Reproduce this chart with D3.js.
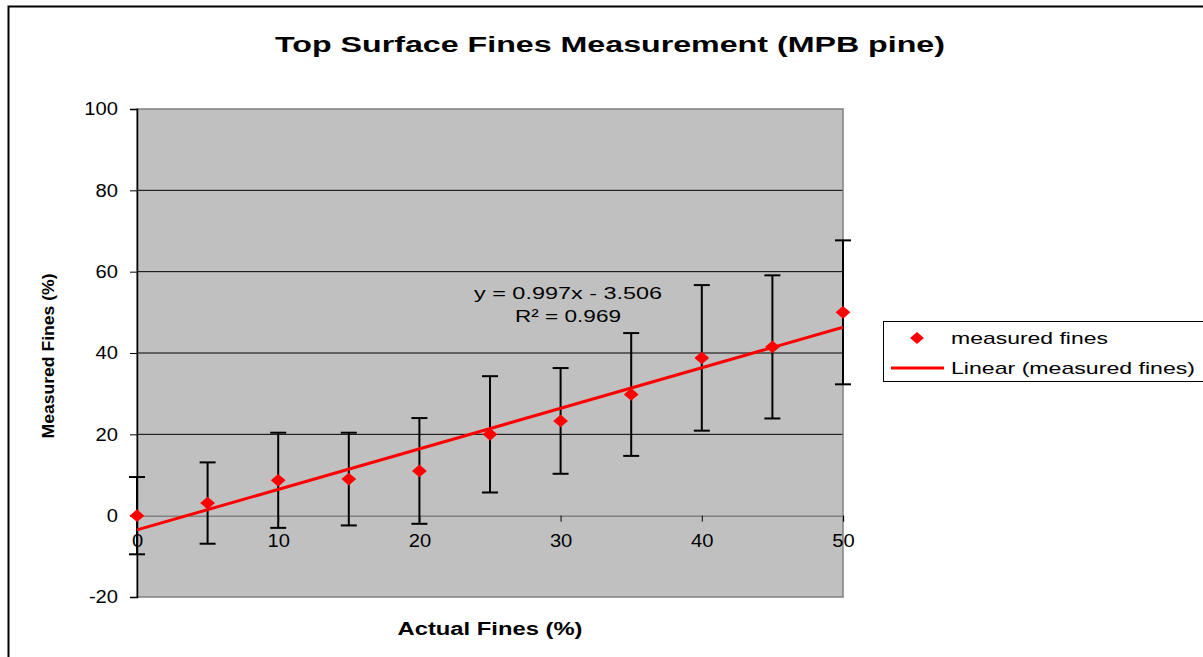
<!DOCTYPE html>
<html>
<head>
<meta charset="utf-8">
<script src="https://cdn.jsdelivr.net/npm/d3@7"></script>
<style>
html,body{margin:0;padding:0;background:#fff;}
svg{display:block;}
text{font-family:"Liberation Sans",Arial,sans-serif;fill:#000;}
</style>
</head>
<body>
<svg id="chart" width="1203" height="657"></svg>
<script>
// ---- data ----
const actualFines = [0, 5, 10, 15, 20, 25, 30, 35, 40, 45, 50];
const measuredFines = [0, 3.1, 8.7, 9.0, 11.0, 20.0, 23.3, 29.8, 38.8, 41.5, 50.0];
const errorAmounts = [9.5, 10.0, 11.7, 11.4, 13.0, 14.3, 13.0, 15.1, 17.9, 17.6, 17.7];
const trendSlope = 0.997;
const trendIntercept = -3.506;
const xTicks = [0, 10, 20, 30, 40, 50];
const yTicks = [-20, 0, 20, 40, 60, 80, 100];
const titleText = "Top Surface Fines Measurement (MPB pine)";
const xLabel = "Actual Fines (%)";
const yLabel = "Measured Fines (%)";
const seriesName = "measured fines";
const trendName = "Linear (measured fines)";
const eqLine1 = "y = 0.997x - 3.506";
const eqLine2 = "R\u00B2 = 0.969";

// ---- layout ----
const svg = d3.select("#chart");
const L = 137, R = 843, T = 109, B = 597;
const x = d3.scaleLinear().domain([0, 50]).range([L, R]);
const y = d3.scaleLinear().domain([-20, 100]).range([B, T]);
const plainFmt = d => String(d);

function fit(sel, w) {
  sel.each(function () {
    this.setAttribute("textLength", w);
    this.setAttribute("lengthAdjust", "spacingAndGlyphs");
  });
  return sel;
}
function stretch(sel, f) {
  sel.each(function () {
    const n = this.getComputedTextLength();
    this.setAttribute("textLength", n * f);
    this.setAttribute("lengthAdjust", "spacingAndGlyphs");
  });
  return sel;
}

// outer border
svg.append("rect").attr("x", 8.5).attr("y", 6.5).attr("width", 1400).attr("height", 800)
  .attr("fill", "#fff").attr("stroke", "#000").attr("stroke-width", 2);

// plot area
svg.append("rect").attr("x", L).attr("y", T).attr("width", R - L).attr("height", B - T)
  .attr("fill", "#c0c0c0");

// gridlines
svg.append("g").selectAll("line").data(yTicks.filter(d => d > 0 && d < 100)).join("line")
  .attr("x1", L).attr("x2", R).attr("y1", d => y(d)).attr("y2", d => y(d))
  .attr("stroke", "#000").attr("stroke-width", 1);

// plot border (grey)
svg.append("rect").attr("x", L).attr("y", T).attr("width", R - L).attr("height", B - T)
  .attr("fill", "none").attr("stroke", "#808080").attr("stroke-width", 1.5);

// x axis at y=0
const xAxis = d3.axisBottom(x).tickValues(xTicks).tickSize(6).tickPadding(10).tickFormat(plainFmt);
const gx = svg.append("g").attr("transform", `translate(0,${y(0)})`).call(xAxis);
gx.select(".domain").attr("stroke", "#808080").attr("stroke-width", 1.5);
gx.selectAll(".tick line").attr("stroke", "#000");
gx.selectAll(".tick text").attr("font-size", 18).attr("font-family", "Liberation Sans, Arial, sans-serif")
  .attr("fill", "#000").attr("dy", "0.85em");
stretch(gx.selectAll(".tick text"), 1.12);

// y axis
const yAxis = d3.axisLeft(y).tickValues(yTicks).tickSize(7).tickPadding(12).tickFormat(plainFmt);
const gy = svg.append("g").attr("transform", `translate(${L},0)`).call(yAxis);
gy.select(".domain").attr("stroke", "#000").attr("stroke-width", 1.5);
gy.selectAll(".tick line").attr("stroke", "#000");
gy.selectAll(".tick text").attr("font-size", 18).attr("font-family", "Liberation Sans, Arial, sans-serif")
  .attr("fill", "#000");
stretch(gy.selectAll(".tick text"), 1.12);

// error bars
const eb = svg.append("g").attr("stroke", "#000").attr("stroke-width", 2);
actualFines.forEach((a, i) => {
  const m = measuredFines[i], e = errorAmounts[i];
  const cx = x(a);
  eb.append("line").attr("x1", cx).attr("x2", cx).attr("y1", y(m - e)).attr("y2", y(m + e));
  eb.append("line").attr("x1", cx - 8).attr("x2", cx + 8).attr("y1", y(m + e)).attr("y2", y(m + e));
  eb.append("line").attr("x1", cx - 8).attr("x2", cx + 8).attr("y1", y(m - e)).attr("y2", y(m - e));
});

// markers
const diamond = d3.symbol().type(d3.symbolDiamond2).size(115);
svg.append("g").selectAll("path").data(actualFines).join("path")
  .attr("d", diamond)
  .attr("transform", (a, i) => `translate(${x(a)},${y(measuredFines[i])}) scale(1.1,0.95)`)
  .attr("fill", "#ff0000");

// trend line
svg.append("line")
  .attr("x1", x(0)).attr("y1", y(trendIntercept))
  .attr("x2", x(50)).attr("y2", y(trendSlope * 50 + trendIntercept))
  .attr("stroke", "#ff0000").attr("stroke-width", 3);

// equation
fit(svg.append("text").attr("x", 568).attr("y", 299).attr("text-anchor", "middle")
  .attr("font-size", 17).text(eqLine1), 188);
fit(svg.append("text").attr("x", 568).attr("y", 322).attr("text-anchor", "middle")
  .attr("font-size", 17).text(eqLine2), 106);

// title
fit(svg.append("text").attr("x", 610).attr("y", 52).attr("text-anchor", "middle")
  .attr("font-size", 22).attr("font-weight", "bold").text(titleText), 670);

// axis labels
fit(svg.append("text").attr("x", 490).attr("y", 635).attr("text-anchor", "middle")
  .attr("font-size", 18).attr("font-weight", "bold").text(xLabel), 185);
fit(svg.append("text").attr("transform", "translate(54,356) rotate(-90)").attr("text-anchor", "middle")
  .attr("font-size", 16).attr("font-weight", "bold").text(yLabel), 165);

// legend
const lg = svg.append("g");
lg.append("rect").attr("x", 883.5).attr("y", 321.5).attr("width", 400).attr("height", 60)
  .attr("fill", "#fff").attr("stroke", "#000").attr("stroke-width", 1);
lg.append("path").attr("d", d3.symbol().type(d3.symbolDiamond2).size(100))
  .attr("transform", "translate(917,338) scale(1.1,0.95)").attr("fill", "#ff0000");
lg.append("line").attr("x1", 891).attr("x2", 944).attr("y1", 368).attr("y2", 368)
  .attr("stroke", "#ff0000").attr("stroke-width", 3);
fit(lg.append("text").attr("x", 951).attr("y", 344).attr("font-size", 17).text(seriesName), 157);
fit(lg.append("text").attr("x", 951).attr("y", 374).attr("font-size", 17).text(trendName), 244);
</script>
</body>
</html>
